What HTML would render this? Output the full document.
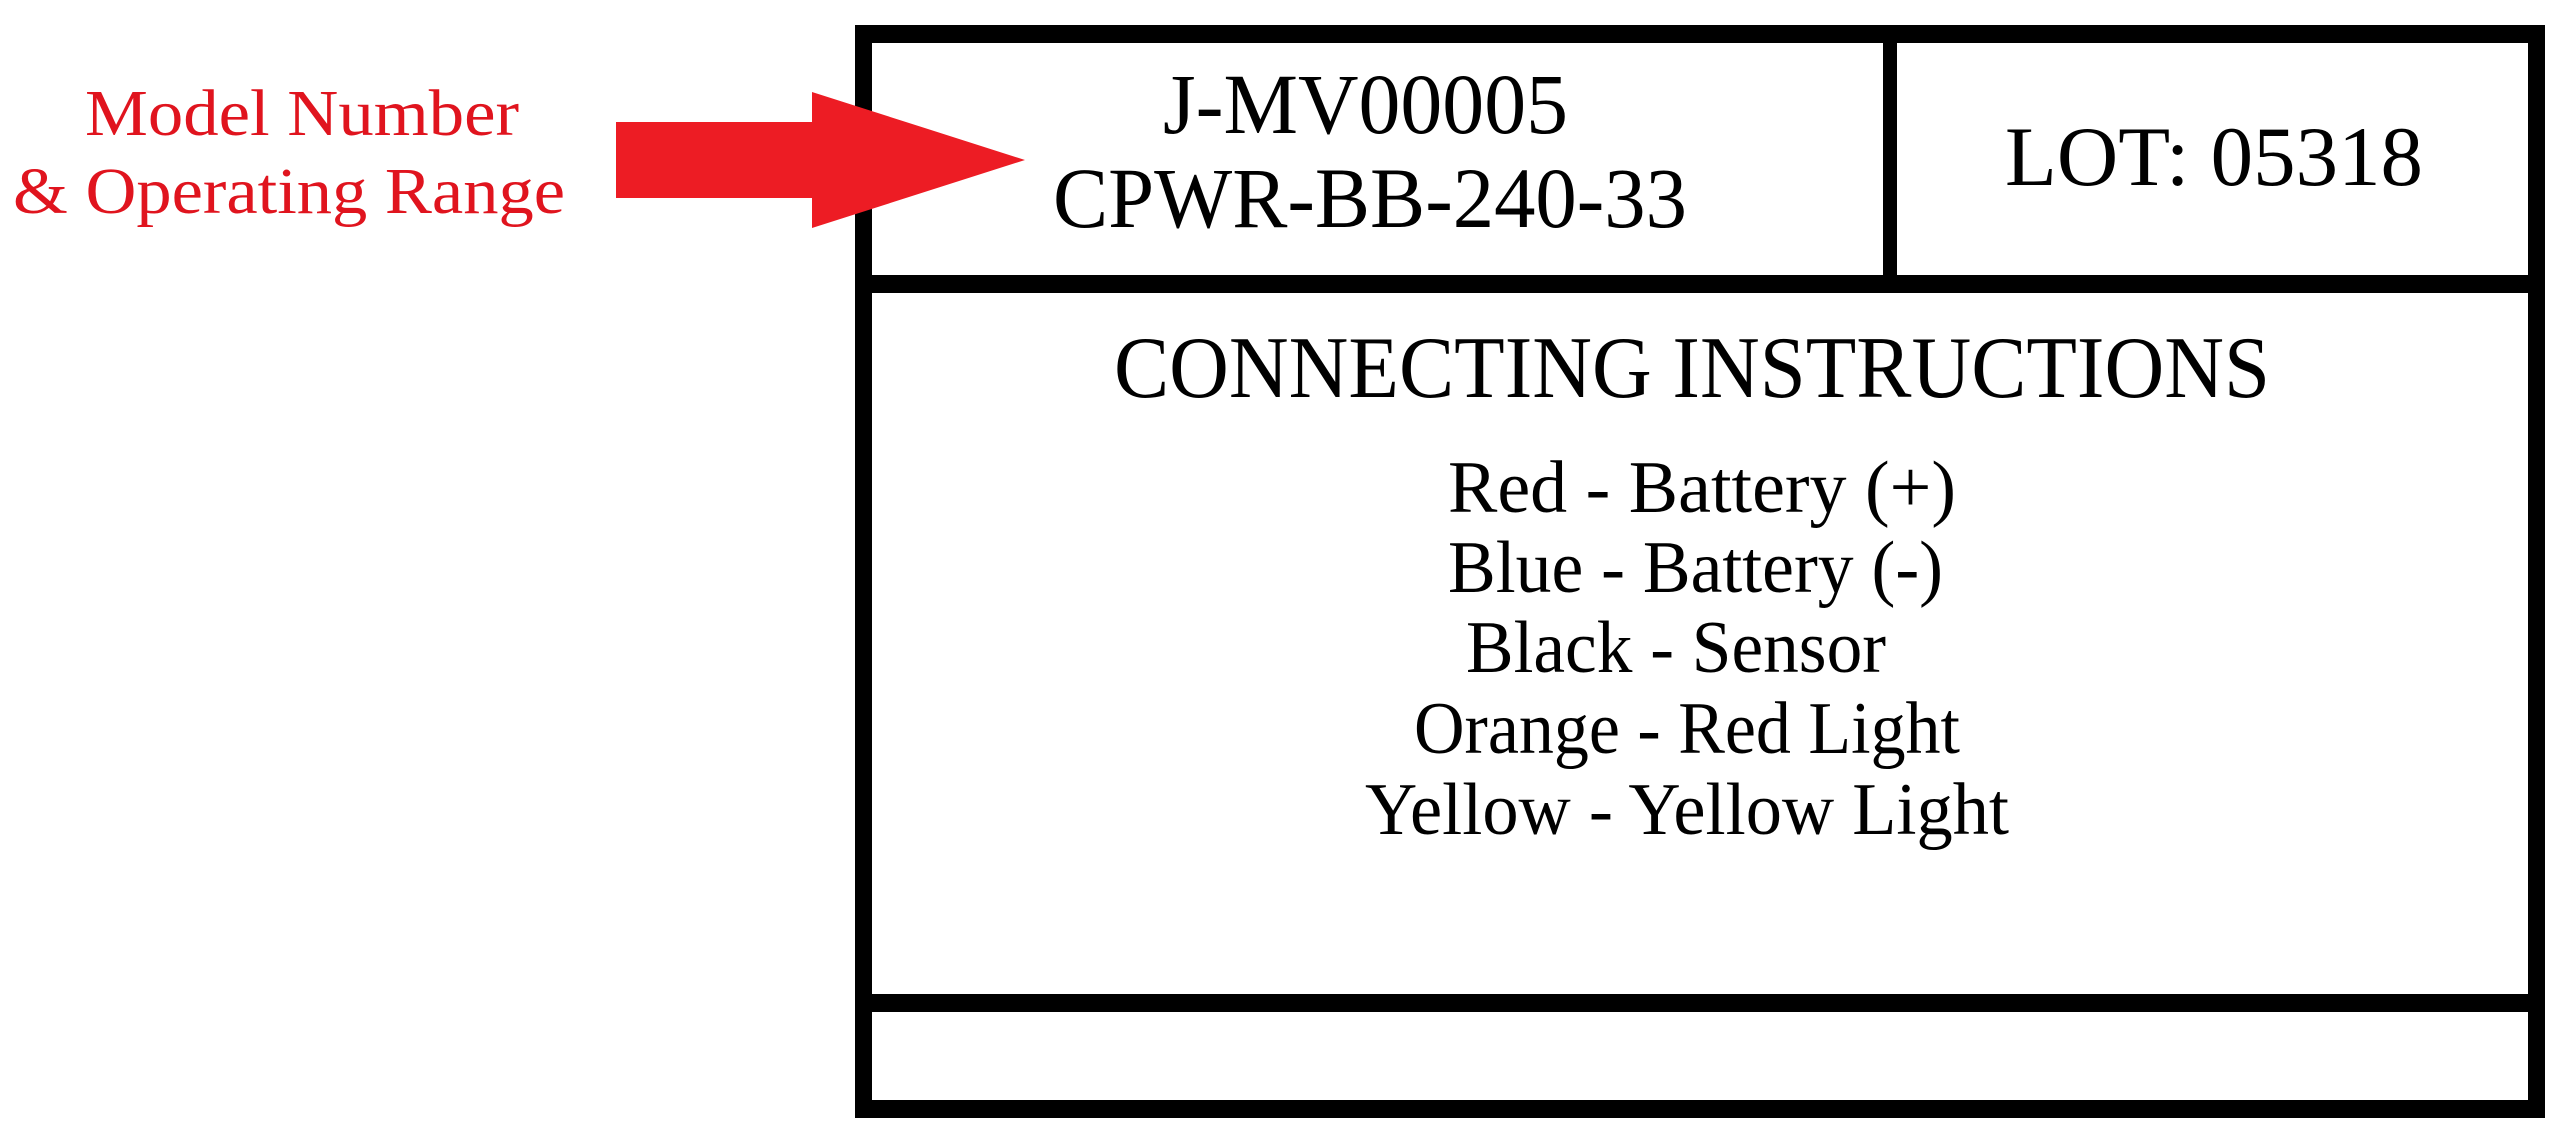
<!DOCTYPE html>
<html><head><meta charset="utf-8"><style>
html,body{margin:0;padding:0;background:#fff;width:2560px;height:1136px;overflow:hidden}
svg{display:block}
text{font-family:"Liberation Serif",serif}
</style></head><body>
<svg width="2560" height="1136" viewBox="0 0 2560 1136">
<rect width="2560" height="1136" fill="#fff"/>
<g fill="#000">
<rect x="855" y="25" width="1690" height="18"/>
<rect x="855" y="25" width="17" height="1093"/>
<rect x="2528" y="25" width="17" height="1093"/>
<rect x="855" y="1100" width="1690" height="18"/>
<rect x="855" y="275" width="1690" height="18"/>
<rect x="855" y="994" width="1690" height="18"/>
<rect x="1883" y="25" width="14" height="268"/>
</g>
<polygon points="616,122 812,122 812,92 1025,160 812,228 812,198 616,198" fill="#ed1c24"/>
<g fill="#e0141e" font-size="66">
<text x="85" y="135" textLength="434" lengthAdjust="spacingAndGlyphs">Model Number</text>
<text x="13" y="213" textLength="552" lengthAdjust="spacingAndGlyphs">&amp; Operating Range</text>
</g>
<g fill="#000">
<text x="1163" y="133" font-size="86" textLength="405" lengthAdjust="spacingAndGlyphs">J-MV00005</text>
<text x="1053" y="227" font-size="86" textLength="634" lengthAdjust="spacingAndGlyphs">CPWR-BB-240-33</text>
<text x="2005" y="185" font-size="85" textLength="418" lengthAdjust="spacingAndGlyphs">LOT: 05318</text>
<text x="1114" y="397" font-size="88" textLength="1156" lengthAdjust="spacingAndGlyphs">CONNECTING INSTRUCTIONS</text>
<g font-size="74">
<text x="1448" y="512" textLength="508" lengthAdjust="spacingAndGlyphs">Red - Battery (+)</text>
<text x="1448" y="592" textLength="495" lengthAdjust="spacingAndGlyphs">Blue - Battery (-)</text>
<text x="1466" y="672" textLength="420" lengthAdjust="spacingAndGlyphs">Black - Sensor</text>
<text x="1414" y="753" textLength="546" lengthAdjust="spacingAndGlyphs">Orange - Red Light</text>
<text x="1365" y="834" textLength="644" lengthAdjust="spacingAndGlyphs">Yellow - Yellow Light</text>
</g>
</g>
</svg>
</body></html>
